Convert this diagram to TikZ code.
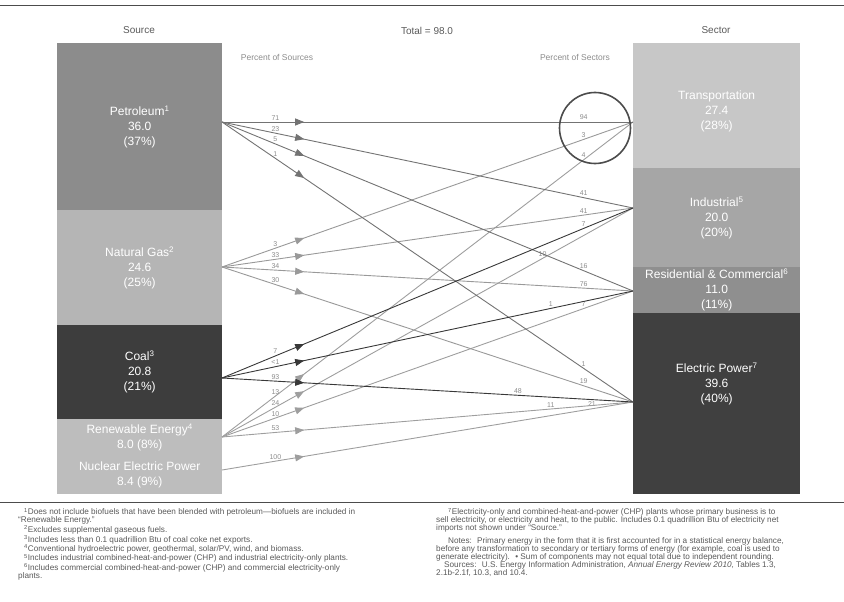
\documentclass[tikz,border=0pt]{standalone}
\usepackage{fontspec}
\setmainfont{Liberation Sans}
\usetikzlibrary{arrows.meta,decorations.markings}
\definecolor{petrogray}{gray}{0.55}
\definecolor{gasgray}{gray}{0.71}
\definecolor{coalgray}{gray}{0.24}
\definecolor{rengray}{gray}{0.74}
\definecolor{transgray}{gray}{0.78}
\definecolor{indgray}{gray}{0.65}
\definecolor{resgray}{gray}{0.56}
\definecolor{elecgray}{gray}{0.25}
\definecolor{petroline}{gray}{0.45}
\definecolor{gasline}{gray}{0.6}
\definecolor{coalline}{gray}{0.22}
\definecolor{renline}{gray}{0.62}
\definecolor{inkgray}{gray}{0.35}
\definecolor{pctgray}{gray}{0.55}
\tikzset{
block/.style={rectangle, inner sep=0pt, anchor=north west, text=white, align=center,
  font=\fontsize{12}{15}\selectfont},
blocktext/.style={inner sep=0pt, text=white, align=center, font=\fontsize{12}{15}\selectfont},
head/.style={text=inkgray, font=\fontsize{10}{12}\selectfont},
subhead/.style={text=pctgray, font=\fontsize{8.5}{10}\selectfont},
pct/.style={text=pctgray, inner sep=1.5pt, font=\fontsize{7}{8}\selectfont},
flow/.style={color=#1, line width=0.9pt, postaction={decorate},
  decoration={markings, mark=at position 0.2 with {\arrow{Triangle[length=9pt,width=7pt]}}}},
rule/.style={line width=0.6pt, black!70},
note/.style={anchor=north west, inner sep=0pt, align=left, text=inkgray,
  font=\fontsize{8.2}{8}\selectfont}
}

\begin{document}
\begin{tikzpicture}[x=1pt,y=-1pt]
\useasboundingbox (0,0) rectangle (844,602);
% the rules
\draw[rule] (0,5) -- (844,5);
\draw[rule] (0,502) -- (844,502);
% the headings
\node[head] (src-head) at (139,30) {Source};
\node[head] (total) at (427,31) {Total = 98.0};
\node[head] (sec-head) at (716,30) {Sector};
\node[subhead] (src-pct) at (277,57) {Percent of Sources};
\node[subhead] (sec-pct) at (575,57) {Percent of Sectors};
% the sources
\node[block, fill=petrogray, minimum width=165pt, minimum height=167pt] (petro) at (57,43)
  {Petroleum\textsuperscript{1}\\36.0\\(37\%)};
\node[block, fill=gasgray, minimum width=165pt, minimum height=115pt] (gas) at (57,210)
  {Natural Gas\textsuperscript{2}\\24.6\\(25\%)};
\node[block, fill=coalgray, minimum width=165pt, minimum height=94pt] (coal) at (57,325)
  {Coal\textsuperscript{3}\\20.8\\(21\%)};
\node[block, fill=rengray, minimum width=165pt, minimum height=37pt] (ren) at (57,419)
  {Renewable Energy\textsuperscript{4}\\8.0 (8\%)};
\node[block, fill=rengray, minimum width=165pt, minimum height=38pt] (nuc) at (57,456)
  {Nuclear Electric Power\\8.4 (9\%)};
% the sectors
\node[block, fill=transgray, minimum width=167pt, minimum height=125pt] (trans) at (633,43) {};
\node[blocktext] (trans-text) at ([yshift=-6pt]trans.center) {Transportation\\27.4\\(28\%)};
\node[block, fill=indgray, minimum width=167pt, minimum height=99pt] (ind) at (633,168)
  {Industrial\textsuperscript{5}\\20.0\\(20\%)};
\node[block, fill=resgray, minimum width=167pt, minimum height=46pt] (res) at (633,267)
  {Residential \& Commercial\textsuperscript{6}\\11.0\\(11\%)};
\node[block, fill=elecgray, minimum width=167pt, minimum height=181pt] (elec) at (633,313) {};
\node[blocktext] (elec-text) at ([yshift=20pt]elec.center)
  {Electric Power\textsuperscript{7}\\39.6\\(40\%)};
% the ends of the flows
\coordinate (petro-o) at (222,122);
\coordinate (gas-o) at (222,267);
\coordinate (coal-o) at (222,378);
\coordinate (ren-o) at (222,437);
\coordinate (nuc-o) at (222,470);
\coordinate (trans-i) at (633,122);
\coordinate (ind-i) at (633,208);
\coordinate (res-i) at (633,291);
\coordinate (elec-i) at (633,402);
% the flows
\foreach \s/\t/\a/\b/\q/\c in {
  nuc/elec/100/21/0.9/renline,
  ren/trans/13/4/0.88/renline, ren/ind/24/10/0.78/renline, ren/res/10/7/0.88/renline, ren/elec/53/11/0.8/renline,
  gas/trans/3/3/0.88/gasline, gas/ind/33/41/0.88/gasline, gas/res/34/76/0.88/gasline, gas/elec/30/19/0.88/gasline,
  petro/trans/71/94/0.88/petroline, petro/ind/23/41/0.88/petroline, petro/res/5/16/0.88/petroline, petro/elec/1/1/0.88/petroline,
  coal/ind/7/7/0.88/coalline, coal/res/<1/1/0.8/coalline, coal/elec/93/48/0.72/coalline}
{
  \draw[flow=\c] (\s-o) -- node[pct, pos=0.13, above] {\a} node[pct, pos=\q, above] {\b} (\t-i);
}
% the circle
\node[draw=black!70, line width=1.6pt, circle, minimum size=71pt] (focus) at (595,128) {};
% the notes
\node[note] (notes-l) at (18,508) {%
\hspace*{6pt}\textsuperscript{1}Does not include biofuels that have been blended with petroleum---biofuels are included in\\
``Renewable Energy.''\\
\hspace*{6pt}\textsuperscript{2}Excludes supplemental gaseous fuels.\\
\hspace*{6pt}\textsuperscript{3}Includes less than 0.1 quadrillion Btu of coal coke net exports.\\
\hspace*{6pt}\textsuperscript{4}Conventional hydroelectric power, geothermal, solar/PV, wind, and biomass.\\
\hspace*{6pt}\textsuperscript{5}Includes industrial combined-heat-and-power (CHP) and industrial electricity-only plants.\\
\hspace*{6pt}\textsuperscript{6}Includes commercial combined-heat-and-power (CHP) and commercial electricity-only\\
plants.};
\node[note] (notes-r) at (436,508) {%
\hspace*{12pt}\textsuperscript{7}Electricity-only and combined-heat-and-power (CHP) plants whose primary business is to\\
sell electricity, or electricity and heat, to the public. Includes 0.1 quadrillion Btu of electricity net\\
imports not shown under ``Source.''\\[5pt]
\hspace*{12pt}Notes: \ Primary energy in the form that it is first accounted for in a statistical energy balance,\\
before any transformation to secondary or tertiary forms of energy (for example, coal is used to\\
generate electricity). \ \textbullet\ Sum of components may not equal total due to independent rounding.\\
\hspace*{8pt}Sources: \ U.S. Energy Information Administration, \textit{Annual Energy Review 2010}, Tables 1.3,\\
2.1b-2.1f, 10.3, and 10.4.};
\end{tikzpicture}
\end{document}
